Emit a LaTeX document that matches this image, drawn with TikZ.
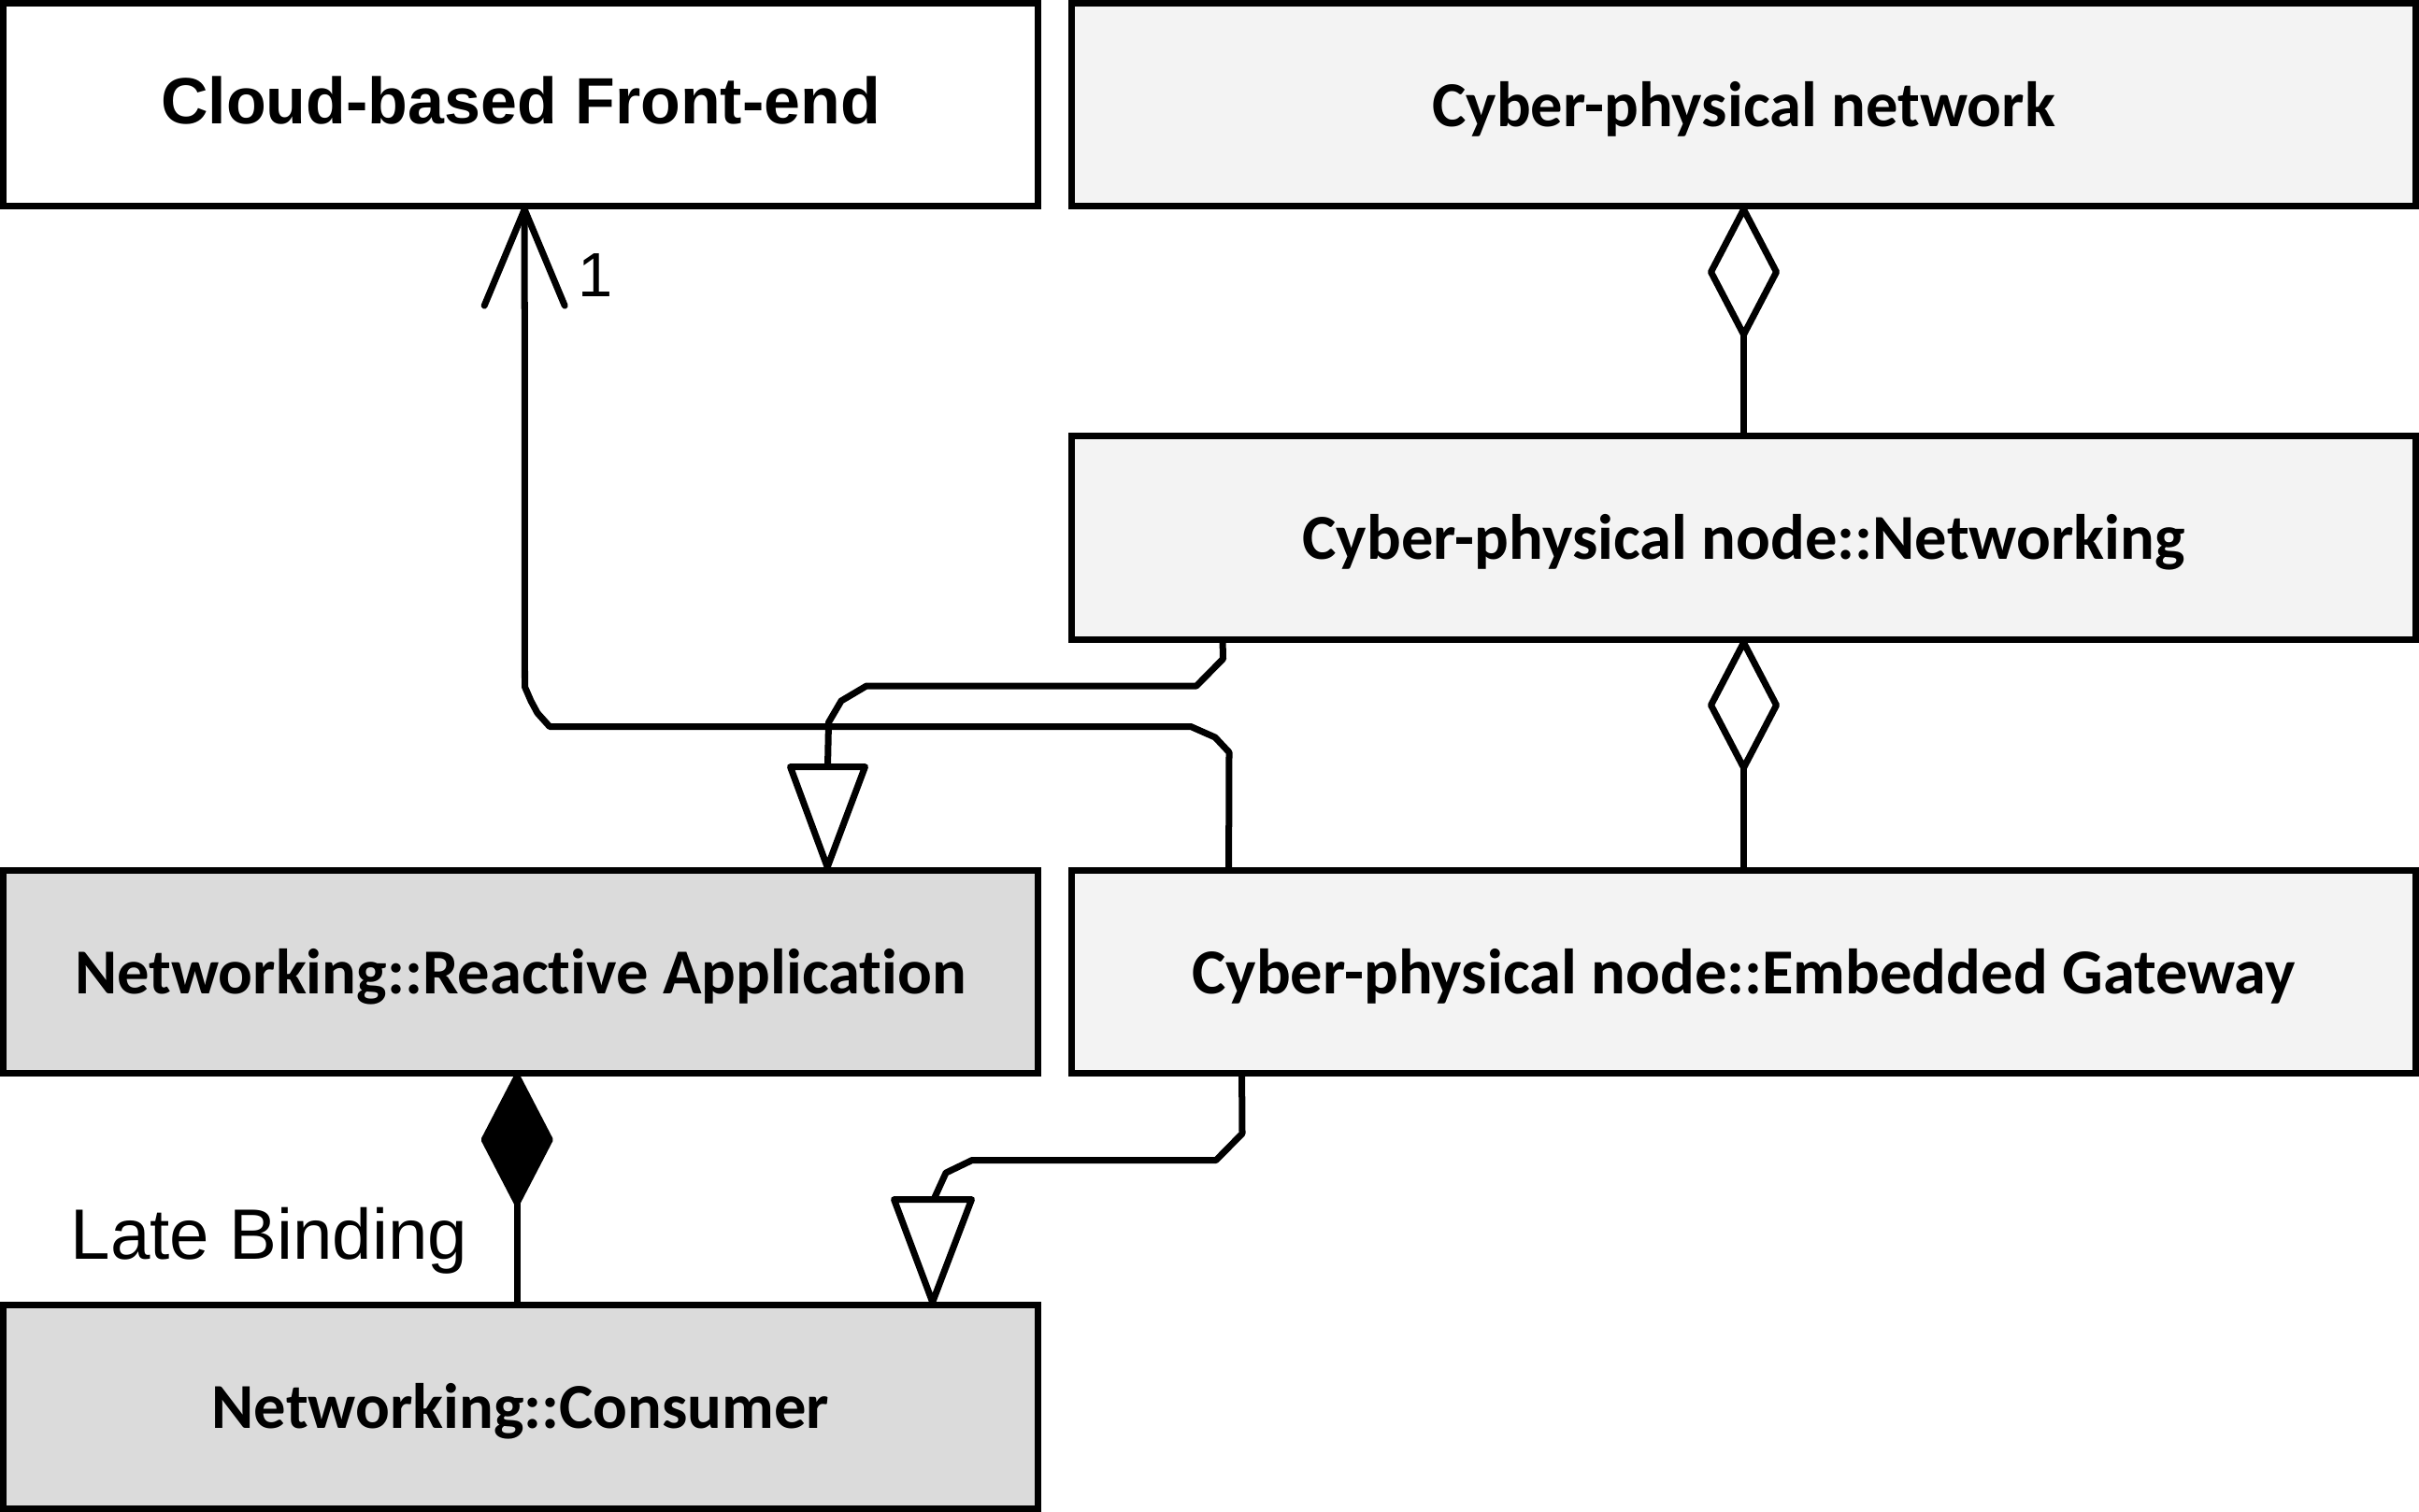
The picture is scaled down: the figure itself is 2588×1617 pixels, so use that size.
\documentclass[tikz,border=0pt]{standalone}
\usepackage{fontspec}
\usetikzlibrary{calc}
\newfontfamily\arialfont{Liberation Sans}
\newfontfamily\calfont{Carlito}[Ligatures={NoCommon}]
\definecolor{lightfill}{HTML}{F3F3F3}
\definecolor{darkfill}{HTML}{DBDBDB}
\begin{document}
\begin{tikzpicture}[x=0.01cm,y=-0.01cm,
  box/.style={draw=black, line width=0.07cm, rectangle, inner sep=0pt, minimum height=2.17cm, text depth=0pt},
  leftbox/.style={box, minimum width=11.07cm},
  rightbox/.style={box, minimum width=14.38cm},
  caltext/.style={font=\calfont\bfseries\fontsize{19.5}{23}\selectfont, text height=0.46cm},
  conn/.style={draw=black, line width=0.07cm, line join=round, line cap=butt},
  headopen/.style={conn, line cap=round},
  hollowhead/.style={conn, fill=white},
  solidhead/.style={conn, fill=black},
  lbl/.style={inner sep=0pt}
]
\useasboundingbox (0,0) rectangle (2588,1617);

% boxes
\node[leftbox, fill=white, font=\arialfont\bfseries\fontsize{19.9}{24}\selectfont, text height=0.40cm] (cloud) at (557,112) {Cloud-based Front-end};
\node[rightbox, fill=lightfill, caltext] (cpn) at (1865.5,112) {Cyber-physical network};
\node[rightbox, fill=lightfill, caltext] (cpnet) at (1865.5,575.5) {Cyber-physical node::Networking};
\node[rightbox, fill=lightfill, caltext] (gw) at (1865.5,1040) {Cyber-physical node::Embedded Gateway};
\node[leftbox, fill=darkfill, caltext] (react) at (557,1040) {Networking::Reactive Application};
\node[leftbox, fill=darkfill, caltext] (cons) at (557,1505.5) {Networking::Consumer};

% labels
\node[lbl, font=\arialfont\fontsize{19}{23}\selectfont, anchor=base west] (one) at (618,317) {1};
\node[lbl, font=\arialfont\fontsize{21.7}{26}\selectfont, anchor=base] (late) at (288,1347) {Late Binding};

% association gateway -> cloud front-end
\draw[conn] ($(gw.north west)+(172,0)$) -- (1315,805) -- (1300,789) -- (1274,777.5)
  -- (588,777.5) -- (575,763) -- (568,750) -- (561.5,735)
  -- ($(cloud.south west)+(561.5,0)$) coordinate (tipA);
\draw[headopen] (tipA) -- ++(-43,103);
\draw[headopen] (tipA) -- ++(43,103);

% generalization networking -> reactive application
\draw[conn] ($(cpnet.south west)+(165.5,0)$) -- (1308.5,705) -- (1280,734) -- (927,734)
  -- (900,750) -- (886.5,773) -- (885.5,820.5);
\draw[hollowhead] (845.5,820.5) -- (925.5,820.5) -- ($(react.north west)+(885.5,0)$) -- cycle;

% generalization gateway -> consumer
\draw[conn] ($(gw.south west)+(186,0)$) -- (1329,1213) -- (1301,1241.5) -- (1040,1241.5)
  -- (1012,1255) -- (999,1283.5);
\draw[hollowhead] (956.5,1283.5) -- (1039.5,1283.5) -- ($(cons.north west)+(998,0)$) -- cycle;

% aggregation networking -> network
\draw[hollowhead] (cpn.south) -- ++(35,67) -- ++(-35,67) coordinate (dA) -- ++(-35,-67) -- cycle;
\draw[conn] (dA) -- (cpnet.north);

% aggregation gateway -> networking
\draw[hollowhead] (cpnet.south) -- ++(35,67) -- ++(-35,67) coordinate (dB) -- ++(-35,-67) -- cycle;
\draw[conn] (dB) -- (gw.north);

% composition consumer -> reactive application
\draw[solidhead] ($(react.south west)+(553.5,0)$) -- ++(35,67.5) -- ++(-35,67.5) coordinate (dC) -- ++(-35,-67.5) -- cycle;
\draw[conn] (dC) -- ($(cons.north west)+(553.5,0)$);
\end{tikzpicture}
\end{document}
